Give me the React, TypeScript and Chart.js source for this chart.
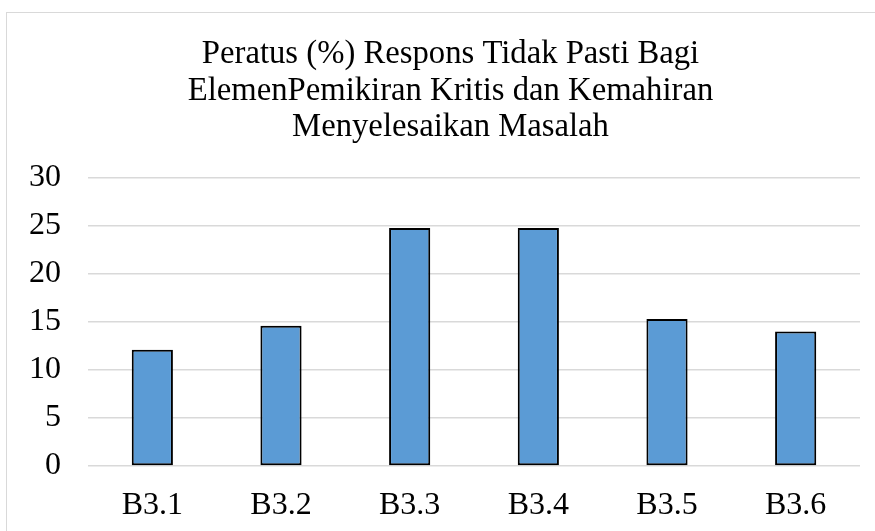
import React, { useEffect, useRef } from "react";
import { Chart, registerables } from "chart.js";

Chart.register(...registerables);

const categories = ["B3.1", "B3.2", "B3.3", "B3.4", "B3.5", "B3.6"];
const values = [12.1, 14.6, 24.8, 24.8, 15.3, 14.0];
const titleLines = [
  "Peratus (%) Respons Tidak Pasti Bagi",
  "ElemenPemikiran Kritis dan Kemahiran",
  "Menyelesaikan Masalah",
];
const yMin = 0;
const yMax = 30;
const yStep = 5;

const FONT = "'Liberation Serif', 'Times New Roman', serif";

const centeredTitle = {
  id: "centeredTitle",
  afterDraw(chart: any) {
    const ctx = chart.ctx;
    ctx.save();
    ctx.fillStyle = "#000000";
    ctx.font = `normal 32.7px ${FONT}`;
    ctx.textAlign = "center";
    ctx.textBaseline = "alphabetic";
    const cx = chart.width / 2;
    titleLines.forEach((line, i) => {
      ctx.fillText(line, cx, 50 + i * 36.5);
    });
    ctx.restore();
  },
};

export default function App() {
  const ref = useRef<HTMLCanvasElement | null>(null);

  useEffect(() => {
    if (!ref.current) return;
    const chart = new Chart(ref.current, {
      type: "bar",
      data: {
        labels: categories,
        datasets: [
          {
            data: values,
            backgroundColor: "#5B9BD5",
            borderColor: "#000000",
            borderWidth: 2,
            borderSkipped: false,
            categoryPercentage: 1,
            barPercentage: 0.32,
          },
        ],
      },
      options: {
        animation: false,
        responsive: false,
        maintainAspectRatio: false,
        layout: { padding: { left: 0, right: 34, top: 165, bottom: 0 } },
        plugins: {
          legend: { display: false },
          tooltip: { enabled: false },
          title: { display: false },
        },
        scales: {
          x: {
            grid: { display: false },
            border: { display: false },
            ticks: {
              color: "#000000",
              font: { family: FONT, size: 32 },
              padding: 12,
              maxRotation: 0,
            },
            afterFit: (s: any) => {
              s.height = 65;
            },
          },
          y: {
            min: yMin,
            max: yMax,
            grid: { color: "#d9d9d9", lineWidth: 1.5, drawTicks: false },
            border: { display: false },
            ticks: {
              stepSize: yStep,
              color: "#000000",
              font: { family: FONT, size: 32 },
              padding: 27,
            },
            afterFit: (s: any) => {
              s.width = 81;
            },
          },
        },
      },
      plugins: [centeredTitle],
    });
    return () => chart.destroy();
  }, []);

  return (
    <div
      style={{
        position: "fixed",
        left: 6,
        top: 12,
        width: 900,
        height: 540,
        borderTop: "1px solid #d9d9d9",
        borderLeft: "1px solid #d9d9d9",
        background: "#ffffff",
        overflow: "hidden",
      }}
    >
      <canvas ref={ref} width={887} height={518} style={{ display: "block" }} />
    </div>
  );
}
